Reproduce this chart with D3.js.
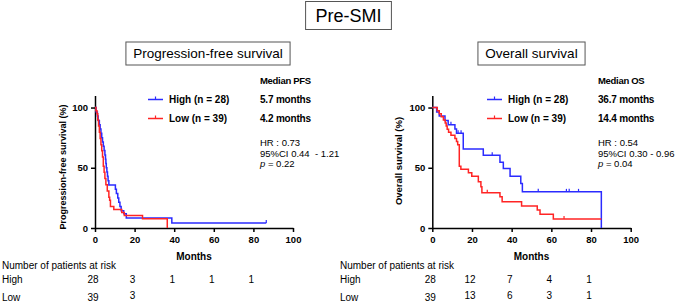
<!DOCTYPE html>
<html lang='en'>
<head>
   <meta charset='UTF-8'>
   <title>Pre-SMI survival</title>
   <script src='https://d3js.org/d3.v7.min.js'></script>
   <style>
      body { margin: 0; background: #fff; }
      svg { display: block; font-family: 'Liberation Sans', Arial, sans-serif; }
      .tick text { font-weight: bold; font-size: 9.5px; }
      .axis path, .axis line { stroke: #000; stroke-width: 1.5px; }
   </style>
</head>
<body>
   <div id='chart'></div>
   <script>
      // tick values
      const monthTicks = [0, 20, 40, 60, 80, 100];
      const survivalTicks = [0, 50, 100];
      const riskMonths = [0, 20, 40, 60, 80];
      const groupLabels = ['High (n = 28)', 'Low (n = 39)'];
      const riskRowLabels = ['High', 'Low'];

      // Kaplan-Meier steps: [month, survival %]
      const pfsHigh = [[0, 100], [0.6, 96.4], [1.2, 92.9], [1.6, 89.3], [2.2, 85.7], [2.6, 82.1], [3, 78.6], [3.4, 75],
         [3.8, 71.4], [4.2, 67.9], [4.6, 64.3], [5, 60.7], [5.3, 57.1], [5.5, 53.6], [5.7, 50], [6, 46.4], [6.3, 42.9],
         [6.6, 39.3], [7, 35.7], [10.3, 32.1], [10.8, 28.6], [11.5, 25], [12, 21.4], [12.6, 17.9], [13.2, 14.3],
         [14.5, 11.9], [15.8, 8.3], [38.8, 4.2], [86.5, 4.2]];
      const pfsHighCensor = [86.5];
      const pfsLow = [[0, 100], [0.5, 97.4], [1, 94.9], [1.4, 89.7], [1.8, 84.6], [2.2, 79.5], [2.6, 74.4], [3, 69.2],
         [3.4, 64.1], [3.8, 59], [4.2, 51.3], [4.6, 46.2], [5, 41], [5.5, 35.9], [6.2, 30.8], [7, 25.6], [7.4, 23.1],
         [7.8, 17.9], [9.5, 15.4], [13.5, 12.8], [14.8, 10.3], [24, 7.7], [36.5, 0]];
      const pfsLowCensor = [];

      const osHigh = [[0, 100], [2.2, 96.4], [3.5, 92.9], [6.4, 89.3], [8, 85.7], [11.4, 82.1], [12.2, 78.6],
         [15.6, 65.5], [25.7, 60.5], [34.1, 54.5], [35.8, 49.5], [39.2, 43], [44.6, 37], [45.4, 30], [85.2, 30], [85.2, 0]];
      const osHighCensor = [9.4, 13, 14.5, 30.2, 53.4, 67.6, 69, 73.7];
      const osLow = [[0, 100], [2.5, 97.4], [3.5, 94.9], [4.5, 92.3], [5.6, 89.7], [6.5, 87.2], [7, 84.6], [7.5, 82],
         [8.2, 79.5], [9.4, 76.9], [11.4, 74.4], [12.2, 71.8], [12.8, 69.2], [13.6, 51.3], [14.4, 48.7], [18.2, 45.8],
         [19.9, 43], [23.2, 38.4], [24.5, 34.2], [25, 29.2], [34.1, 26], [35.2, 21.8], [45, 18.2], [52.9, 14.9],
         [54.3, 11.4], [61, 7.5], [85.2, 7.5]];
      const osLowCensor = [27.7, 66.4];

      // numbers at risk
      const pfsRiskHigh = [28, 3, 1, 1, 1];
      const pfsRiskLow = [39, 3];
      const osRiskHigh = [28, 12, 7, 4, 1];
      const osRiskLow = [39, 13, 6, 3, 1];

      const colours = ['#2b2bff', '#ff2424'];

      const svg = d3.select('#chart').append('svg').attr('width', 677).attr('height', 303);

      // boxed titles
      const titleBox = (cx, top, h, label, size) => {
         const t = svg.append('text').attr('x', cx).attr('y', top + h / 2).attr('dy', '0.36em')
            .attr('text-anchor', 'middle').attr('font-size', size).text(label);
         const w = t.node().getComputedTextLength() + size * 1.1;
         svg.insert('rect', 'text').attr('x', cx - w / 2).attr('y', top).attr('width', w).attr('height', h)
            .attr('fill', '#fff').attr('stroke', '#555').attr('stroke-width', 1);
      };
      titleBox(348.5, 1.5, 28, 'Pre-SMI', 18);

      const drawPanel = (p) => {
         const x = d3.scaleLinear().domain([0, 100]).range(p.xRange);
         const y = d3.scaleLinear().domain([0, 110]).range([228, 95.5]);
         const g = svg.append('g');

         titleBox(p.titleX, 42, 23, p.title, 13.5);

         g.append('g').attr('class', 'axis').attr('transform', 'translate(0,228)')
            .call(d3.axisBottom(x).tickValues(monthTicks).tickSize(4).tickSizeOuter(0).tickPadding(4));
         g.append('g').attr('class', 'axis').attr('transform', `translate(${p.xRange[0]},0)`)
            .call(d3.axisLeft(y).tickValues(survivalTicks).tickSize(4).tickSizeOuter(0).tickPadding(3));

         g.append('text').attr('x', (p.xRange[0] + p.xRange[1]) / 2).attr('y', 260)
            .attr('text-anchor', 'middle').attr('font-weight', 'bold').attr('font-size', 10).text('Months');
         g.append('text').attr('transform', `translate(${p.yLabelX},${p.yLabelY}) rotate(-90)`)
            .attr('text-anchor', 'middle').attr('font-weight', 'bold').attr('font-size', p.yLabelSize).text(p.yLabel);

         const line = d3.line().x(d => x(d[0])).y(d => y(d[1])).curve(d3.curveStepAfter);
         const stepAt = (curve, t) => {
            let s = curve[0][1];
            curve.forEach(d => { if (d[0] <= t) s = d[1]; });
            return s;
         };

         [p.high, p.low].forEach((curve, i) => {
            g.append('path').datum(curve).attr('fill', 'none').attr('stroke', colours[i])
               .attr('stroke-width', 1.5).attr('d', line);
            g.selectAll(null).data(p.censor[i]).join('line')
               .attr('x1', d => x(d)).attr('x2', d => x(d))
               .attr('y1', d => y(stepAt(curve, d)) - 3).attr('y2', d => y(stepAt(curve, d)))
               .attr('stroke', colours[i]).attr('stroke-width', 1.2);
         });

         // legend and medians
         [99.5, 118.5].forEach((ly, i) => {
            g.append('line').attr('x1', p.legendX).attr('x2', p.legendX + 15).attr('y1', ly).attr('y2', ly)
               .attr('stroke', colours[i]).attr('stroke-width', 1.5);
            g.append('line').attr('x1', p.legendX + 7.5).attr('x2', p.legendX + 7.5).attr('y1', ly - 3).attr('y2', ly)
               .attr('stroke', colours[i]).attr('stroke-width', 1.2);
            g.append('text').attr('x', p.legendX + 21).attr('y', ly + 3.5).attr('font-size', 10)
               .attr('font-weight', 'bold').text(groupLabels[i]);
            g.append('text').attr('x', p.statX).attr('y', ly + 3.5).attr('font-size', 10)
               .attr('font-weight', 'bold').attr('letter-spacing', -0.2).text(p.medians[i]);
         });
         g.append('text').attr('x', p.statX).attr('y', 84).attr('font-size', 9.5)
            .attr('font-weight', 'bold').attr('letter-spacing', -0.3).text(p.medianTitle);
         g.append('text').attr('x', p.statX).attr('y', 146).attr('font-size', 9.5).text(p.hr);
         g.append('text').attr('x', p.statX).attr('y', 156.5).attr('font-size', 9.5)
            .style('white-space', 'pre').text(p.ci);
         const pt = g.append('text').attr('x', p.statX).attr('y', 167).attr('font-size', 9.5);
         pt.append('tspan').attr('font-style', 'italic').text('p');
         pt.append('tspan').text(' = ' + p.pValue);

         // numbers at risk
         g.append('text').attr('x', p.riskLabelX).attr('y', 268.5).attr('font-size', 10)
            .text('Number of patients at risk');
         [[p.riskHigh, 283], [p.riskLow, 301]].forEach(([row, ry], i) => {
            g.append('text').attr('x', p.riskLabelX).attr('y', ry).attr('font-size', 10).text(riskRowLabels[i]);
            g.selectAll(null).data(row).join('text')
               .attr('x', (d, j) => x(riskMonths[j]) - 2).attr('y', (d, j) => ry - (i === 1 && j > 0 ? 2 : 0))
               .attr('text-anchor', 'middle').attr('font-size', 10).text(d => d);
         });
      };

      drawPanel({
         xRange: [95, 293], title: 'Progression-free survival', titleX: 208,
         yLabel: 'Progression-free survival (%)', yLabelX: 66, yLabelY: 167, yLabelSize: 9,
         high: pfsHigh, low: pfsLow, censor: [pfsHighCensor, pfsLowCensor],
         legendX: 148, statX: 260, medianTitle: 'Median PFS', medians: ['5.7 months', '4.2 months'],
         hr: 'HR : 0.73', ci: '95%CI 0.44  - 1.21', pValue: '0.22',
         riskLabelX: 2, riskHigh: pfsRiskHigh, riskLow: pfsRiskLow
      });

      drawPanel({
         xRange: [432.3, 630.7], title: 'Overall survival', titleX: 531.5,
         yLabel: 'Overall survival (%)', yLabelX: 402, yLabelY: 161, yLabelSize: 9.5,
         high: osHigh, low: osLow, censor: [osHighCensor, osLowCensor],
         legendX: 487, statX: 598, medianTitle: 'Median OS', medians: ['36.7 months', '14.4 months'],
         hr: 'HR : 0.54', ci: '95%CI 0.30 - 0.96', pValue: '0.04',
         riskLabelX: 340, riskHigh: osRiskHigh, riskLow: osRiskLow
      });
   </script>
</body>
</html>
